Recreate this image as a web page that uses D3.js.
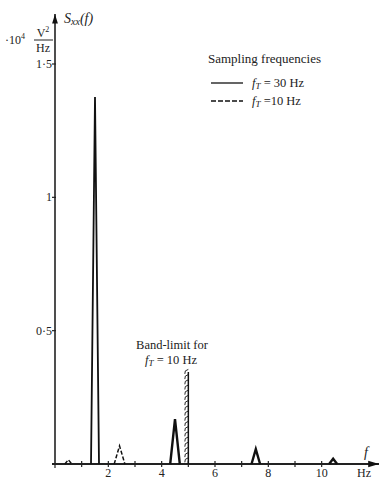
<!DOCTYPE html>
<html><head><meta charset="utf-8">
<script src="https://cdn.jsdelivr.net/npm/d3@7"></script>
<style>
body{margin:0;background:#fff;}
svg{display:block;font-family:"Liberation Serif","DejaVu Serif",serif;}
</style></head>
<body><svg id="c" width="380" height="479"></svg>
<script>
// ---- data ----
const xTicks = [2, 4, 6, 8, 10];
const xMinorTicks = [1, 3, 5, 7, 9];
const yTicks = [0.5, 1, 1.5];
const yTickLabels = ["0·5", "1", "1·5"];
// fT = 30 Hz spectrum (solid): triangular peaks
const solidCenters = [1.5, 4.5, 7.53, 10.43];
const solidHeights = [1.376, 0.168, 0.056, 0.02];
const solidHalfWidths = [0.15, 0.18, 0.16, 0.15];
// fT = 10 Hz aliases (dashed)
const dashedCenters = [0.5, 2.42];
const dashedHeights = [0.016, 0.068];
const dashedHalfWidths = [0.13, 0.2];
const bandLimit = 5;
const bandLimitTop = 0.345;

const svg = d3.select("#c");
const x = d3.scaleLinear().domain([0, 12]).range([55, 375]);
const y = d3.scaleLinear().domain([0, 1.5]).range([464, 64]);

// axes lines with arrows
svg.append("defs").append("marker").attr("id","arr").attr("viewBox","0 0 10 10")
  .attr("refX",10).attr("refY",5).attr("markerWidth",10).attr("markerHeight",6)
  .attr("orient","auto").append("path").attr("d","M0,2 L10,5 L0,8 Z").attr("fill","#111");
svg.append("line").attr("x1",x(0)).attr("y1",y(0)).attr("x2",x(0)).attr("y2",14)
  .attr("stroke","#222").attr("stroke-width",1.6).attr("marker-end","url(#arr)");
svg.append("line").attr("x1",x(0)-3).attr("y1",y(0)).attr("x2",379).attr("y2",y(0))
  .attr("stroke","#222").attr("stroke-width",1.8).attr("marker-end","url(#arr)");

// x ticks
const xt = svg.append("g");
xt.selectAll("line.maj").data(xTicks.concat(xMinorTicks)).join("line")
  .attr("x1",d=>x(d)).attr("x2",d=>x(d)).attr("y1",y(0)-3).attr("y2",y(0)+3)
  .attr("stroke","#222").attr("stroke-width",1.2);
xt.append("line").attr("x1",x(0)).attr("x2",x(0)).attr("y1",y(0)).attr("y2",y(0)+4).attr("stroke","#222").attr("stroke-width",1.2);
xt.selectAll("text").data(xTicks).join("text")
  .attr("x",d=>x(d)).attr("y",477).attr("text-anchor","middle")
  .attr("font-size",12).attr("fill","#222").text(d=>d);
svg.append("text").attr("x",364).attr("y",477).attr("text-anchor","middle")
  .attr("font-size",12).attr("fill","#222").text("Hz");
svg.append("text").attr("x",366).attr("y",457).attr("text-anchor","middle")
  .attr("font-size",14).attr("font-style","italic").attr("fill","#222").text("f");

// y ticks
const yt = svg.append("g");
yt.selectAll("line").data(yTicks).join("line")
  .attr("x1",x(0)-3).attr("x2",x(0)+1).attr("y1",d=>y(d)).attr("y2",d=>y(d))
  .attr("stroke","#222").attr("stroke-width",1.2);
yt.selectAll("text").data(yTicks).join("text")
  .attr("x",x(0)-3).attr("y",d=>y(d)+4).attr("text-anchor","end")
  .attr("font-size",12).attr("fill","#222").text((d,i)=>yTickLabels[i]);

// y unit label
svg.append("text").attr("x",5).attr("y",44).attr("font-size",12).attr("fill","#222")
  .html('·10<tspan dy="-5" font-size="8">4</tspan>');
svg.append("text").attr("x",43).attr("y",37).attr("text-anchor","middle").attr("font-size",12).attr("fill","#222")
  .html('V<tspan dy="-5" font-size="8">2</tspan>');
svg.append("line").attr("x1",34).attr("x2",53).attr("y1",40).attr("y2",40).attr("stroke","#222").attr("stroke-width",1);
svg.append("text").attr("x",43).attr("y",52).attr("text-anchor","middle").attr("font-size",12).attr("fill","#222").text("Hz");
svg.append("text").attr("x",64).attr("y",23).attr("font-size",14).attr("font-style","italic").attr("fill","#222")
  .html('S<tspan font-size="10" dy="2">xx</tspan><tspan dy="-2">(f)</tspan>');

// peaks
function tri(c,h,w){ return [[c-w,0],[c,h],[c+w,0]]; }
const line = d3.line().x(d=>x(d[0])).y(d=>y(d[1]));
svg.append("g").selectAll("path").data(solidCenters.map((c,i)=>tri(c,solidHeights[i],solidHalfWidths[i])))
  .join("path").attr("d",line).attr("fill","none").attr("stroke","#111")
  .attr("stroke-width",(d,i)=>i===0?1.8:2.4).attr("stroke-linejoin","miter");
svg.append("g").selectAll("path").data(dashedCenters.map((c,i)=>tri(c,dashedHeights[i],dashedHalfWidths[i])))
  .join("path").attr("d",line).attr("fill","none").attr("stroke","#111")
  .attr("stroke-width",1.5).attr("stroke-dasharray","4,2");

// band-limit hatched line
const bl = svg.append("g");
bl.append("line").attr("x1",x(bandLimit)).attr("x2",x(bandLimit)).attr("y1",y(0)).attr("y2",y(bandLimitTop))
  .attr("stroke","#111").attr("stroke-width",1.5);
const hatchVals = d3.range(0.012, bandLimitTop, 0.0195);
bl.selectAll("path.h").data(hatchVals).join("path")
  .attr("d",d=>`M${x(bandLimit)-3.5},${y(d)+1.5} L${x(bandLimit)-3},${y(d)-1.5} L${x(bandLimit)},${y(d)-3}`)
  .attr("fill","none").attr("stroke","#111").attr("stroke-width",0.9);
svg.append("text").attr("x",172).attr("y",349).attr("text-anchor","middle").attr("font-size",12.5).attr("fill","#222").text("Band-limit for");
svg.append("text").attr("x",171).attr("y",364).attr("text-anchor","middle").attr("font-size",12.5).attr("fill","#222")
  .html('<tspan font-style="italic">f<tspan font-size="9" dy="2">T</tspan></tspan><tspan dy="-2"> = 10 Hz</tspan>');

// legend
const lg = svg.append("g");
lg.append("text").attr("x",208).attr("y",63).attr("font-size",13).attr("fill","#222").text("Sampling frequencies");
lg.append("line").attr("x1",211).attr("x2",243).attr("y1",83).attr("y2",83).attr("stroke","#111").attr("stroke-width",1.3);
lg.append("line").attr("x1",211).attr("x2",243).attr("y1",101).attr("y2",101).attr("stroke","#111").attr("stroke-width",1.3).attr("stroke-dasharray","5,2");
lg.append("text").attr("x",252).attr("y",87).attr("font-size",12.5).attr("fill","#222")
  .html('<tspan font-style="italic">f<tspan font-size="9" dy="2">T</tspan></tspan><tspan dy="-2"> = 30 Hz</tspan>');
lg.append("text").attr("x",252).attr("y",105).attr("font-size",12.5).attr("fill","#222")
  .html('<tspan font-style="italic">f<tspan font-size="9" dy="2">T</tspan></tspan><tspan dy="-2"> =10 Hz</tspan>');
</script></body></html>
